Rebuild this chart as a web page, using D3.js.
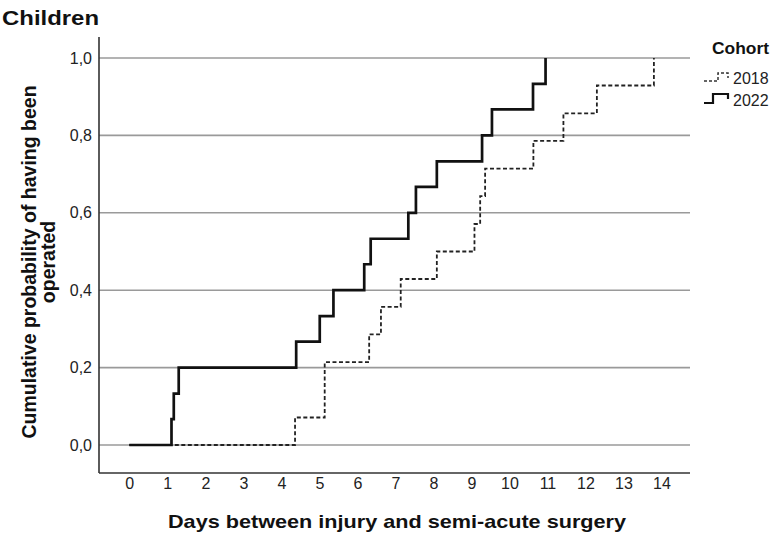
<!DOCTYPE html>
<html>
<head>
<meta charset="utf-8">
<script src="https://cdn.jsdelivr.net/npm/d3@7"></script>
<style>
  html, body { margin: 0; padding: 0; background: #fff; }
  svg { display: block; font-family: "Liberation Sans", Arial, sans-serif; }
</style>
</head>
<body>
<svg id="chart" width="777" height="537"></svg>
<script>
// ---- data ----
const xTicks = [0,1,2,3,4,5,6,7,8,9,10,11,12,13,14];
const yTicks = [0, 0.2, 0.4, 0.6, 0.8, 1.0];
const yTickLabels = ["0,0","0,2","0,4","0,6","0,8","1,0"];

const days2022 = [0, 1.11, 1.17, 1.30, 4.39, 5.01, 5.37, 6.18, 6.35, 7.34, 7.54, 8.09, 9.28, 9.54, 10.62, 10.95];
const prob2022 = [0, 0.067, 0.133, 0.2, 0.267, 0.333, 0.4, 0.467, 0.533, 0.6, 0.667, 0.733, 0.8, 0.867, 0.933, 1.0];

const days2018 = [0, 4.36, 5.14, 6.31, 6.62, 7.14, 8.09, 9.08, 9.23, 9.36, 10.63, 11.42, 12.30, 13.80];
const prob2018 = [0, 0.071, 0.214, 0.286, 0.357, 0.429, 0.5, 0.571, 0.643, 0.714, 0.786, 0.857, 0.929, 1.0];

const cohorts = ["2018", "2022"];

// ---- layout ----
const svg = d3.select("#chart");
const axisLeftX = 99, axisRightX = 690, axisTopY = 37, axisBottomY = 473;
const x = d3.scaleLinear().domain([0, 14]).range([129.3, 661.5]);
const y = d3.scaleLinear().domain([0, 1]).range([445, 58]);

// grid lines
svg.append("g").selectAll("line").data(yTicks).join("line")
  .attr("x1", axisLeftX).attr("x2", axisRightX)
  .attr("y1", d => y(d)).attr("y2", d => y(d))
  .attr("stroke", "#9a9a9a").attr("stroke-width", 1.6);

// axes lines
svg.append("line").attr("x1", axisLeftX).attr("x2", axisLeftX)
  .attr("y1", axisTopY).attr("y2", axisBottomY)
  .attr("stroke", "#333").attr("stroke-width", 1.6);
svg.append("line").attr("x1", axisLeftX).attr("x2", axisRightX)
  .attr("y1", axisBottomY).attr("y2", axisBottomY)
  .attr("stroke", "#333").attr("stroke-width", 1.6);

// y axis labels
const yAxis = d3.axisLeft(y).tickValues(yTicks)
  .tickFormat((d, i) => yTickLabels[i]).tickSize(0).tickPadding(7);
const gy = svg.append("g").attr("transform", `translate(${axisLeftX},0)`).call(yAxis);
gy.select(".domain").remove();
gy.selectAll("text").attr("font-size", 16).attr("fill", "#222")
  .attr("font-family", "'Liberation Sans', Arial, sans-serif");

// x axis labels
const xAxis = d3.axisBottom(x).tickValues(xTicks).tickFormat(d3.format("d")).tickSize(0).tickPadding(5);
const gx = svg.append("g").attr("transform", `translate(0,${axisBottomY})`).call(xAxis);
gx.select(".domain").remove();
gx.selectAll("text").attr("font-size", 16).attr("fill", "#222")
  .attr("font-family", "'Liberation Sans', Arial, sans-serif");

// step curves
const line = d3.line().x(d => x(d[0])).y(d => y(d[1])).curve(d3.curveStepAfter);
const s2018 = days2018.map((d, i) => [d, prob2018[i]]);
const s2022 = days2022.map((d, i) => [d, prob2022[i]]);

svg.append("path").attr("d", line(s2018)).attr("fill", "none")
  .attr("stroke", "#222").attr("stroke-width", 1.8).attr("stroke-dasharray", "4,2.5");
svg.append("path").attr("d", line(s2022)).attr("fill", "none")
  .attr("stroke", "#111").attr("stroke-width", 2.7);

// titles
svg.append("text").attr("x", 2).attr("y", 25)
  .attr("font-size", 21).attr("font-weight", "bold").attr("fill", "#111")
  .attr("textLength", 97).attr("lengthAdjust", "spacingAndGlyphs")
  .text("Children");

svg.append("text").attr("x", 397).attr("y", 528).attr("text-anchor", "middle")
  .attr("font-size", 19).attr("font-weight", "bold").attr("fill", "#111")
  .attr("textLength", 458).attr("lengthAdjust", "spacingAndGlyphs")
  .text("Days between injury and semi-acute surgery");

const yt = svg.append("text").attr("transform", "translate(0,262) rotate(-90)")
  .attr("text-anchor", "middle").attr("font-size", 19.5).attr("font-weight", "bold").attr("fill", "#111");
yt.append("tspan").attr("x", 0).attr("y", 36).text("Cumulative probability of having been");
yt.append("tspan").attr("x", 0).attr("y", 55).text("operated");

// legend
svg.append("text").attr("x", 712).attr("y", 54)
  .attr("font-size", 16).attr("font-weight", "bold").attr("fill", "#111")
  .attr("textLength", 57).attr("lengthAdjust", "spacingAndGlyphs")
  .text("Cohort");

const legY = [78, 100];
const lg = svg.append("g").selectAll("g").data(cohorts).join("g")
  .attr("transform", (d, i) => `translate(0,${legY[i]})`);
lg.append("path")
  .attr("d", (d, i) => i === 0 ? "M704,3 H718 V-5 H728 V0" : "M704,3 H713 V-6 H728 V-1")
  .attr("fill", "none")
  .attr("stroke", (d, i) => i === 0 ? "#333" : "#111")
  .attr("stroke-width", (d, i) => i === 0 ? 1.5 : 2.2)
  .attr("stroke-dasharray", (d, i) => i === 0 ? "3,2" : null);
lg.append("text").attr("x", 733).attr("y", 6)
  .attr("font-size", 16).attr("fill", "#222")
  .text(d => d);
</script>
</body>
</html>
